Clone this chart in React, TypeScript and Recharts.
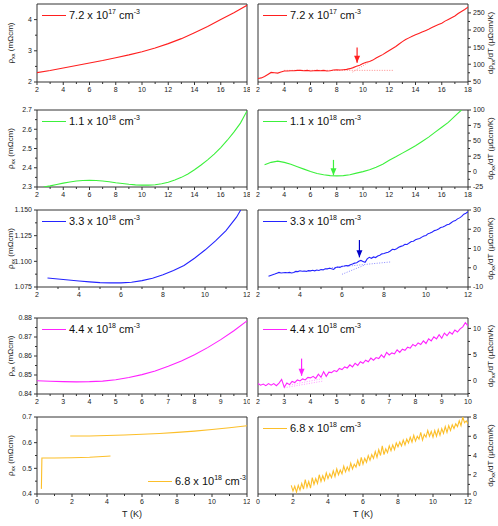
import React from 'react';
import {
  LineChart,
  Line,
  XAxis,
  YAxis,
  ReferenceArea,
  ReferenceLine,
  ReferenceDot,
  Legend,
} from 'recharts';

const FONT = '"Liberation Sans", Arial, Helvetica, sans-serif';
const AXIS = '#333';
const TICK = '#222';

// temperature axes (K)
const ticksT18 = [2, 4, 6, 8, 10, 12, 14, 16, 18];
const minorT18 = [3, 5, 7, 9, 11, 13, 15, 17];
const ticksT12 = [2, 4, 6, 8, 10, 12];
const minorT12 = [3, 5, 7, 9, 11];
const ticksT10 = [2, 3, 4, 5, 6, 7, 8, 9, 10];
const minorT10 = [2.5, 3.5, 4.5, 5.5, 6.5, 7.5, 8.5, 9.5];
const ticksT0 = [0, 2, 4, 6, 8, 10, 12];
const minorT0 = [1, 3, 5, 7, 9, 11];

// ---- 7.2e17 cm^-3 ----
const tRho72 = [2, 3, 4, 5, 6, 7, 8, 9, 10, 11, 12, 13, 14, 15, 16, 17, 18];
const rho72 = [2.3, 2.37, 2.45, 2.53, 2.61, 2.69, 2.78, 2.87, 2.97, 3.09, 3.23, 3.39, 3.58, 3.78, 4.0, 4.22, 4.46];
const dStart72 = 2;
const dStep72 = 0.25;
const drho72 = [
  58, 60, 64, 70, 76, 75, 74, 77, 80, 80,
  81, 81, 82, 82, 81, 82, 80, 81, 82, 81,
  82, 80, 81, 83, 84, 83, 84, 85, 87, 90,
  94, 97, 102, 106, 108, 112, 118, 123, 128, 134,
  140, 146, 152, 159, 166, 172, 177, 182, 186, 190,
  194, 198, 202, 207, 212, 216, 220, 226, 231, 236,
  241, 248, 254, 260, 267,
];
const guides72 = [
  { x: [4, 12.3], y: [82, 82] },
  { x: [9.2, 10.4], y: [77, 105] },
];
const arrow72 = { t: 9.55, from: 149, to: 104 };

// ---- 1.1e18 cm^-3 ----
const tRho11 = [2.5, 3, 3.5, 4, 4.5, 5, 5.5, 6, 6.5, 7, 7.5, 8, 8.5, 9, 9.5, 10, 10.5, 11, 11.5, 12, 12.5, 13, 13.5, 14, 14.5, 15, 15.5, 16, 16.5, 17, 17.5, 18];
const rho11 = [2.3, 2.306, 2.313, 2.32, 2.326, 2.331, 2.334, 2.335, 2.334, 2.331, 2.327, 2.322, 2.318, 2.314, 2.311, 2.31, 2.31, 2.312, 2.317, 2.325, 2.336, 2.35, 2.368, 2.39, 2.414, 2.441, 2.471, 2.505, 2.543, 2.585, 2.632, 2.695];
const tD11 = [2.5, 3, 3.5, 4, 4.5, 5, 5.5, 6, 6.5, 7, 7.5, 8, 8.5, 9, 9.5, 10, 10.5, 11, 11.5, 12, 12.5, 13, 13.5, 14, 14.5, 15, 15.5, 16, 16.5, 17, 17.5];
const drho11 = [11, 15, 17, 15, 12, 8, 4, 0, -3, -5, -6.5, -7, -6.5, -5, -2.5, 0, 3, 7, 12, 18.5, 24, 30, 36, 42, 49, 56, 64, 72, 80, 90, 100];
const arrow11 = { t: 7.75, from: 19, to: -6 };

// ---- 3.3e18 cm^-3 ----
const tRho33 = [2.5, 3, 3.5, 4, 4.5, 5, 5.5, 6, 6.5, 7, 7.5, 8, 8.5, 9, 9.5, 10, 10.5, 11, 11.5, 11.7];
const rho33 = [1.0838, 1.0828, 1.0818, 1.0808, 1.08, 1.0793, 1.079, 1.079, 1.0797, 1.0812, 1.0835, 1.087, 1.091, 1.096, 1.103, 1.111, 1.12, 1.13, 1.143, 1.15];
const dStart33 = 2.5;
const dStep33 = 0.1;
const drho33 = [
  -4.4, -4.0, -3.6, -3.3, -2.8, -2.4, -2.7, -2.6, -2.5, -2.6,
  -2.4, -2.7, -2.5, -1.9, -2.0, -1.6, -1.8, -1.7, -1.9, -1.5,
  -1.6, -1.3, -1.6, -1.2, -1.4, -0.9, -1.1, -0.5, -0.6, -0.3,
  -0.5, -0.9, 0.1, 0.4, 0.2, 0.8, 0.9, 1.2, 1.0, 1.6,
  1.9, 2.4, 2.6, 3.4, 3.8, 3.3, 2.8, 4.6, 5.4, 4.9,
  5.6, 5.3, 6.1, 6.5, 7.2, 7.4, 7.8, 8.1, 8.7, 9.6,
  9.4, 9.9, 10.6, 11.1, 11.4, 12.2, 12.1, 12.9, 13.6, 13.8,
  14.5, 14.9, 15.2, 15.9, 16.5, 16.8, 17.7, 18.0, 18.6, 19.3,
  19.6, 20.1, 20.9, 21.2, 21.7, 22.3, 22.6, 23.4, 24.2, 24.5,
  25.4, 25.9, 26.7, 27.8, 28.3, 29.1,
];
const guides33 = [
  { x: [5.4, 8.3], y: [-0.1, 3.0] },
  { x: [6.0, 7.1], y: [-3.4, 1.5] },
];
const arrow33 = { t: 6.83, from: 14.4, to: 5.4 };

// ---- 4.4e18 cm^-3 ----
const tRho44 = [2, 2.5, 3, 3.5, 4, 4.5, 5, 5.5, 6, 6.5, 7, 7.5, 8, 8.5, 9, 9.5, 10];
const rho44 = [0.847, 0.8467, 0.8465, 0.8464, 0.8465, 0.8468, 0.8475, 0.8487, 0.8502, 0.8521, 0.8546, 0.8574, 0.8607, 0.8644, 0.8686, 0.8733, 0.8785];
const dStart44 = 2;
const dStep44 = 0.1;
const drho44 = [
  -0.6, -0.9, -0.7, -1.0, -0.6, -0.9, -0.6, -1.0, -0.5, 0.2,
  -1.3, -0.5, -0.8, -0.2, -0.4, 0.1, -0.1, 0.3, 0.1, 0.6,
  0.5, 0.8, 0.4, 1.2, 0.6, 1.7, 0.8, 1.6, 1.5, 1.9,
  1.7, 2.3, 2.1, 2.6, 2.4, 3.0, 2.6, 3.3, 2.9, 3.6,
  3.3, 3.9, 3.6, 4.3, 3.9, 4.4, 4.2, 4.9, 4.4, 5.4,
  4.9, 5.3, 5.1, 5.9, 5.4, 6.0, 5.8, 6.4, 6.2, 6.9,
  6.6, 7.2, 6.9, 7.6, 7.1, 8.0, 7.6, 8.4, 8.0, 8.8,
  8.1, 9.1, 8.6, 9.3, 8.9, 9.7, 9.3, 9.9, 10.3, 11.1,
  10.5,
];
const guides44 = [
  { x: [3.0, 4.5], y: [-1.4, -0.1] },
  { x: [3.2, 4.5], y: [-0.9, 0.4] },
];
const arrow44 = { t: 3.66, from: 4.2, to: 0.9 };

// ---- 6.8e18 cm^-3 ----
const tRho68a = [0.25, 0.28, 0.4, 1, 2, 2.5, 3, 3.5, 4, 4.2];
const rho68a = [0.42, 0.54, 0.54, 0.54, 0.541, 0.542, 0.543, 0.545, 0.547, 0.548];
const tRho68b = [1.9, 3, 4, 5, 6, 7, 8, 9, 10, 11, 12];
const rho68b = [0.626, 0.626, 0.628, 0.63, 0.633, 0.636, 0.64, 0.645, 0.651, 0.658, 0.666];
const dStart68 = 1.9;
const dStep68 = 0.1;
const drho68 = [
  0.9, 0.3, 0.8, 0.2, 0.9, 0.4, 1.1, 0.5, 1.5, 0.7,
  1.3, 0.6, 1.7, 1.0, 1.6, 1.1, 2.0, 1.3, 1.9, 1.4,
  2.2, 1.6, 2.1, 1.7, 2.4, 1.8, 2.6, 2.0, 2.5, 2.1,
  2.9, 2.3, 2.8, 2.4, 3.2, 2.6, 3.1, 2.8, 3.5, 2.9,
  3.8, 3.1, 3.7, 3.3, 4.0, 3.5, 4.1, 3.7, 4.4, 3.8,
  4.6, 4.0, 5.0, 4.1, 4.7, 4.3, 5.0, 4.5, 5.1, 4.6,
  5.3, 4.9, 5.4, 5.0, 5.6, 5.1, 5.7, 5.3, 5.9, 5.4,
  6.1, 5.5, 6.0, 5.7, 6.4, 5.6, 6.2, 5.9, 6.6, 6.0,
  6.5, 5.9, 6.6, 6.0, 6.7, 6.1, 6.8, 6.3, 7.0, 6.4,
  7.1, 6.6, 7.2, 6.8, 7.3, 7.0, 7.6, 7.1, 8.0, 7.4,
  7.6, 7.3,
];

const grid = (start: number, step: number, n: number) =>
  Array.from({ length: n }, (_, i) => Math.round((start + i * step) * 1000) / 1000);
const rows = (t: number[], v: number[]) => t.map((x, i) => ({ t: x, v: v[i] }));

type Series = { t: number[]; v: number[]; color: string };
type Guide = { x: number[]; y: number[] };
type Arrow = { t: number; from: number; to: number };

type PanelProps = {
  side: 'left' | 'right';
  top: number;
  bottom: number;
  xDomain: [number, number];
  xMajor: number[];
  xMinor: number[];
  yDomain: [number, number];
  yMajor: number[];
  yMinor: number[];
  yDec: number;
  series: Series[];
  guides?: Guide[];
  guideColor?: string;
  arrow?: Arrow;
  arrowColor?: string;
  label: { base: string; exp: string; color: string; left: number; top: number };
  xLabel?: boolean;
};

const XTick = (props: any) => {
  const { x, y, payload, majors } = props;
  const major = majors.includes(payload.value);
  return (
    <g>
      <line x1={x} x2={x} y1={y} y2={y + (major ? 3 : 2)} stroke={AXIS} />
      {major && (
        <text x={x} y={y + 10} textAnchor="middle" fontSize={7} fill={TICK}>
          {payload.value}
        </text>
      )}
    </g>
  );
};

const YTick = (props: any) => {
  const { x, y, payload, majors, side, dec } = props;
  const major = majors.includes(payload.value);
  const s = side === 'left' ? -1 : 1;
  return (
    <g>
      <line x1={x} x2={x + s * (major ? 3 : 2)} y1={y} y2={y} stroke={AXIS} />
      {major && (
        <text
          x={x + s * 5}
          y={y}
          dy="0.35em"
          textAnchor={side === 'left' ? 'end' : 'start'}
          fontSize={7}
          fill={TICK}
        >
          {Number(payload.value).toFixed(dec)}
        </text>
      )}
    </g>
  );
};

const YLab = (props: any) => {
  const { viewBox, side } = props;
  const cx = side === 'left' ? viewBox.x + 10 : viewBox.x + 22;
  const cy = viewBox.y + viewBox.height / 2;
  return (
    <text
      x={cx}
      y={cy}
      transform={`rotate(-90, ${cx}, ${cy})`}
      textAnchor="middle"
      dy="0.35em"
      fontSize={8}
      fill={TICK}
    >
      {side === 'left' ? 'ρ' : 'dρ'}
      <tspan fontSize={5.5} dy={2}>xx</tspan>
      <tspan dy={-2}>{side === 'left' ? ' (mΩcm)' : '/dT (μΩcm/K)'}</tspan>
    </text>
  );
};

const XLab = (props: any) => {
  const { viewBox, shift } = props;
  return (
    <text x={viewBox.x + viewBox.width / 2 + shift} y={viewBox.y + 23} textAnchor="middle" fontSize={9} fill={TICK}>
      T (K)
    </text>
  );
};

const Tag = ({ base, exp, color }: { base: string; exp: string; color: string }) => (
  <div style={{ display: 'flex', alignItems: 'center', fontFamily: FONT, fontSize: 11, color: '#111', whiteSpace: 'nowrap' }}>
    <span style={{ display: 'inline-block', width: 24, height: 0, borderTop: `1.5px solid ${color}`, marginRight: 3 }} />
    <span>
      {base} x 10
      <span style={{ fontSize: 7, position: 'relative', top: -5 }}>{exp}</span> cm
      <span style={{ fontSize: 7, position: 'relative', top: -5 }}>-3</span>
    </span>
  </div>
);

function Panel(p: PanelProps) {
  const isLeft = p.side === 'left';
  const width = isLeft ? 250 : 248;
  const axisH = p.xLabel ? 32 : 20;
  const height = p.bottom - p.top + 5 + axisH;
  const xTicks = [...p.xMajor, ...p.xMinor].sort((a, b) => a - b);
  const yTicks = [...p.yMajor, ...p.yMinor].sort((a, b) => a - b);
  const ac = p.arrowColor || p.series[0].color;
  return (
    <div style={{ position: 'absolute', left: isLeft ? 0 : 250, top: p.top - 5 }}>
      <LineChart
        width={width}
        height={height}
        margin={{ top: 5, right: isLeft ? 3 : 0, bottom: 0, left: isLeft ? 0 : 8 }}
        style={{ fontFamily: FONT }}
      >
        <XAxis
          type="number"
          dataKey="t"
          domain={p.xDomain}
          allowDataOverflow
          ticks={xTicks}
          interval={0}
          height={axisH}
          axisLine={false}
          tickLine={false}
          tickSize={0}
          tickMargin={0}
          tick={<XTick majors={p.xMajor} />}
          label={p.xLabel ? <XLab shift={isLeft ? -10 : 0} /> : undefined}
        />
        <YAxis
          type="number"
          orientation={p.side}
          width={isLeft ? 37 : 30}
          domain={p.yDomain}
          allowDataOverflow
          ticks={yTicks}
          interval={0}
          axisLine={false}
          tickLine={false}
          tickSize={0}
          tickMargin={0}
          tick={<YTick majors={p.yMajor} side={p.side} dec={p.yDec} />}
          label={<YLab side={p.side} />}
        />
        <ReferenceArea
          x1={p.xDomain[0]}
          x2={p.xDomain[1]}
          y1={p.yDomain[0]}
          y2={p.yDomain[1]}
          fill="none"
          stroke={AXIS}
          strokeWidth={1}
          ifOverflow="visible"
        />
        {(p.guides || []).map((g, i) => (
          <ReferenceLine
            key={`g${i}`}
            segment={[{ x: g.x[0], y: g.y[0] }, { x: g.x[1], y: g.y[1] }]}
            stroke={p.guideColor}
            strokeDasharray="1 1.5"
            strokeWidth={1}
          />
        ))}
        {p.series.map((s, i) => (
          <Line
            key={`s${i}`}
            data={rows(s.t, s.v)}
            dataKey="v"
            type="linear"
            stroke={s.color}
            strokeWidth={1.1}
            dot={false}
            isAnimationActive={false}
          />
        ))}
        {p.arrow && (
          <ReferenceLine
            segment={[{ x: p.arrow.t, y: p.arrow.from }, { x: p.arrow.t, y: p.arrow.to }]}
            stroke={ac}
            strokeWidth={1.2}
          />
        )}
        {p.arrow && (
          <ReferenceDot
            x={p.arrow.t}
            y={p.arrow.to}
            r={0}
            shape={(sp: any) => <path d={`M${sp.cx},${sp.cy} l-3,-7 l6,0 z`} fill={ac} />}
          />
        )}
        <Legend
          layout="vertical"
          align="center"
          verticalAlign="middle"
          wrapperStyle={{ left: p.label.left, top: p.label.top, width: 180, height: 16 }}
          content={() => <Tag base={p.label.base} exp={p.label.exp} color={p.label.color} />}
        />
      </LineChart>
    </div>
  );
}

const RED = '#ff1f1f';
const GREEN = '#3cf03c';
const BLUE = '#2424ff';
const MAGENTA = '#ff22ff';
const GOLD = '#fcbf2a';

export default function App() {
  const L = { left: 42, top: 10 };
  const R = { left: 13, top: 10 };
  return (
    <div style={{ position: 'absolute', left: 0, top: 0, width: 498, height: 526, background: '#fff', overflow: 'hidden' }}>
      <Panel
        side="left" top={4} bottom={82}
        xDomain={[2, 18]} xMajor={ticksT18} xMinor={minorT18}
        yDomain={[2, 4.5]} yMajor={[2, 3, 4]} yMinor={[2.5, 3.5]} yDec={0}
        series={[{ t: tRho72, v: rho72, color: RED }]}
        label={{ base: '7.2', exp: '17', color: RED, ...L }}
      />
      <Panel
        side="right" top={4} bottom={82}
        xDomain={[2, 18]} xMajor={ticksT18} xMinor={minorT18}
        yDomain={[48, 276]} yMajor={[50, 100, 150, 200, 250]} yMinor={[75, 125, 175, 225]} yDec={0}
        series={[{ t: grid(dStart72, dStep72, drho72.length), v: drho72, color: RED }]}
        guides={guides72} guideColor="#ff8c8c" arrow={arrow72}
        label={{ base: '7.2', exp: '17', color: RED, ...R }}
      />
      <Panel
        side="left" top={110} bottom={187}
        xDomain={[2, 18]} xMajor={ticksT18} xMinor={minorT18}
        yDomain={[2.3, 2.7]} yMajor={[2.3, 2.4, 2.5, 2.6, 2.7]} yMinor={[2.35, 2.45, 2.55, 2.65]} yDec={1}
        series={[{ t: tRho11, v: rho11, color: GREEN }]}
        label={{ base: '1.1', exp: '18', color: GREEN, ...L }}
      />
      <Panel
        side="right" top={110} bottom={187}
        xDomain={[2, 18]} xMajor={ticksT18} xMinor={minorT18}
        yDomain={[-25, 100]} yMajor={[-25, 0, 25, 50, 75, 100]} yMinor={[-12.5, 12.5, 37.5, 62.5, 87.5]} yDec={0}
        series={[{ t: tD11, v: drho11, color: GREEN }]}
        arrow={arrow11}
        label={{ base: '1.1', exp: '18', color: GREEN, ...R }}
      />
      <Panel
        side="left" top={210} bottom={287}
        xDomain={[2, 12]} xMajor={ticksT12} xMinor={minorT12}
        yDomain={[1.075, 1.15]} yMajor={[1.075, 1.1, 1.125, 1.15]} yMinor={[1.0875, 1.1125, 1.1375]} yDec={3}
        series={[{ t: tRho33, v: rho33, color: BLUE }]}
        label={{ base: '3.3', exp: '18', color: BLUE, ...L }}
      />
      <Panel
        side="right" top={210} bottom={287}
        xDomain={[2, 12]} xMajor={ticksT12} xMinor={minorT12}
        yDomain={[-10, 30]} yMajor={[-10, 0, 10, 20, 30]} yMinor={[-5, 5, 15, 25]} yDec={0}
        series={[{ t: grid(dStart33, dStep33, drho33.length), v: drho33, color: BLUE }]}
        guides={guides33} guideColor="#8c8cff" arrow={arrow33} arrowColor="#0000c8"
        label={{ base: '3.3', exp: '18', color: BLUE, ...R }}
      />
      <Panel
        side="left" top={318} bottom={394}
        xDomain={[2, 10]} xMajor={ticksT10} xMinor={minorT10}
        yDomain={[0.84, 0.88]} yMajor={[0.84, 0.85, 0.86, 0.87, 0.88]} yMinor={[0.845, 0.855, 0.865, 0.875]} yDec={2}
        series={[{ t: tRho44, v: rho44, color: MAGENTA }]}
        label={{ base: '4.4', exp: '18', color: MAGENTA, ...L }}
      />
      <Panel
        side="right" top={318} bottom={394}
        xDomain={[2, 10]} xMajor={ticksT10} xMinor={minorT10}
        yDomain={[-2.6, 12]} yMajor={[0, 5, 10]} yMinor={[-2.5, 2.5, 7.5]} yDec={0}
        series={[{ t: grid(dStart44, dStep44, drho44.length), v: drho44, color: MAGENTA }]}
        guides={guides44} guideColor="#ff9cff" arrow={arrow44}
        label={{ base: '4.4', exp: '18', color: MAGENTA, ...R }}
      />
      <Panel
        side="left" top={417} bottom={494} xLabel
        xDomain={[0, 12]} xMajor={ticksT0} xMinor={minorT0}
        yDomain={[0.4, 0.7]} yMajor={[0.4, 0.5, 0.6, 0.7]} yMinor={[0.45, 0.55, 0.65]} yDec={1}
        series={[
          { t: tRho68a, v: rho68a, color: GOLD },
          { t: tRho68b, v: rho68b, color: GOLD },
        ]}
        label={{ base: '6.8', exp: '18', color: GOLD, left: 148, top: 63 }}
      />
      <Panel
        side="right" top={417} bottom={494} xLabel
        xDomain={[0, 12]} xMajor={ticksT0} xMinor={minorT0}
        yDomain={[0, 8]} yMajor={[0, 2, 4, 6, 8]} yMinor={[1, 3, 5, 7]} yDec={0}
        series={[{ t: grid(dStart68, dStep68, drho68.length), v: drho68, color: GOLD }]}
        label={{ base: '6.8', exp: '18', color: GOLD, ...R }}
      />
    </div>
  );
}
